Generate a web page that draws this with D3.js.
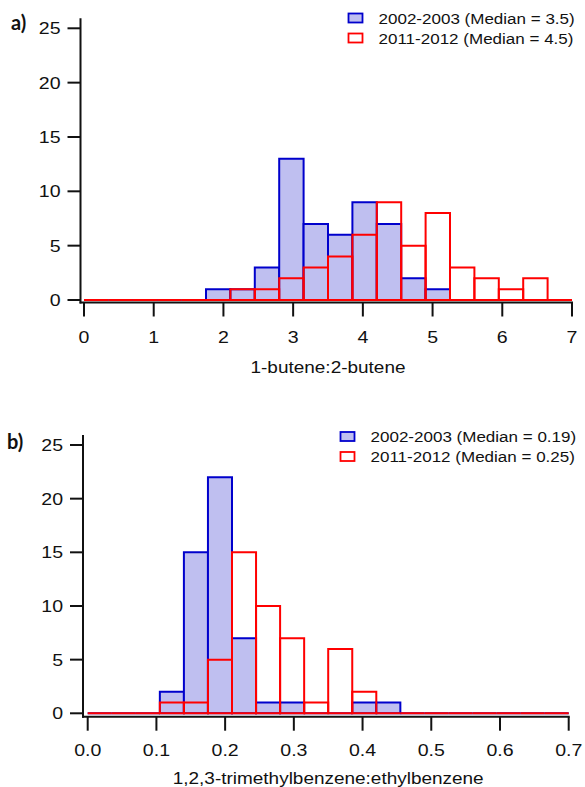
<!DOCTYPE html>
<html>
<head>
<meta charset="utf-8">
<script src="https://cdn.jsdelivr.net/npm/d3@7"></script>
<style>
    body { margin: 0; background: #fff; }
    text { font-family: "Liberation Sans", Arial, sans-serif; fill: #111; }
</style>
</head>
<body>
<svg id="chart" width="585" height="787"></svg>
<script>
// Panel a: 1-butene:2-butene, 20 bins of 0.35 from 0 to 7
const aBinWidth = 0.35;
const aBlue = [0, 0, 0, 0, 0, 1, 1, 3, 13, 7, 6, 9, 7, 2, 1, 0, 0, 0, 0, 0];
const aRed = [0, 0, 0, 0, 0, 0, 1, 1, 2, 3, 4, 6, 9, 5, 8, 3, 2, 1, 2, 0];
const aXTicks = [0, 1, 2, 3, 4, 5, 6, 7];
const aLegend = ['2002-2003 (Median = 3.5)', '2011-2012 (Median = 4.5)'];

// Panel b: 1,2,3-trimethylbenzene:ethylbenzene, 20 bins of 0.035 from 0 to 0.7
const bBinWidth = 0.035;
const bBlue = [0, 0, 0, 2, 15, 22, 7, 1, 1, 0, 0, 1, 1, 0, 0, 0, 0, 0, 0, 0];
const bRed = [0, 0, 0, 1, 1, 5, 15, 10, 7, 1, 6, 2, 0, 0, 0, 0, 0, 0, 0, 0];
const bXTicks = [0, 0.1, 0.2, 0.3, 0.4, 0.5, 0.6, 0.7];
const bLegend = ['2002-2003 (Median = 0.19)', '2011-2012 (Median = 0.25)'];

const yTicks = [0, 5, 10, 15, 20, 25];

const blue = '#0000cc', blueFill = '#bfbff0', red = '#ff0000';
const stretch = 1.15; // the source figure is stretched horizontally

const svg = d3.select('#chart');

function label(g, x, y, str, size, anchor, weight) {
    return g.append('text')
        .attr('transform', `translate(${x},${y}) scale(${stretch},1)`)
        .attr('text-anchor', anchor)
        .style('font-size', size + 'px')
        .style('font-weight', weight || 'normal')
        .text(str);
}

function drawPanel(p) {
    const g = svg.append('g');
    const x = d3.scaleLinear().domain(p.xDomain).range(p.xRange);
    const y = d3.scaleLinear().domain([0, 25]).range(p.yRange);

    const bins = (counts, w) => counts.map((c, i) => ({ x0: i * w, x1: (i + 1) * w, n: c }));
    // closed path per bin so that empty bins still show as a line on the baseline
    const binPath = d => `M${x(d.x0)},${y(0)}V${y(d.n)}H${x(d.x1)}V${y(0)}Z`;

    // blue histogram first, red outline on top
    g.append('g').selectAll('path')
        .data(bins(p.blue, p.binWidth))
        .join('path')
        .attr('d', binPath)
        .attr('fill', blueFill)
        .attr('stroke', blue)
        .attr('stroke-width', 2);

    g.append('g').selectAll('path')
        .data(bins(p.red, p.binWidth))
        .join('path')
        .attr('d', binPath)
        .attr('fill', 'none')
        .attr('stroke', red)
        .attr('stroke-width', 2);

    // axes
    const ax = p.axisX, ay = p.axisY;
    g.append('line')
        .attr('x1', ax).attr('x2', ax)
        .attr('y1', y(25) - 10).attr('y2', ay + 1)
        .attr('stroke', '#111').attr('stroke-width', 2);
    g.append('line')
        .attr('x1', ax - 1).attr('x2', x(p.xDomain[1]) + 1)
        .attr('y1', ay).attr('y2', ay)
        .attr('stroke', '#111').attr('stroke-width', 2);

    yTicks.forEach(t => {
        g.append('line')
            .attr('x1', ax - 13).attr('x2', ax)
            .attr('y1', y(t)).attr('y2', y(t))
            .attr('stroke', '#111').attr('stroke-width', 2);
        label(g, ax - 20, y(t) + 6, t, 17, 'end');
    });

    p.xTicks.forEach(t => {
        g.append('line')
            .attr('x1', x(t)).attr('x2', x(t))
            .attr('y1', ay).attr('y2', ay + 14)
            .attr('stroke', '#111').attr('stroke-width', 2);
        label(g, x(t), ay + p.tickLabelOffset + 6, p.tickFormat(t), 17, 'middle');
    });

    label(g, (p.xRange[0] + p.xRange[1]) / 2, ay + p.titleOffset + 6, p.title, 16.5, 'middle');

    // panel letter
    g.append('text')
        .attr('x', p.letterX).attr('y', p.letterY)
        .style('font-family', 'Lato, "Open Sans", sans-serif')
        .style('font-weight', 'bold')
        .style('font-size', '20px')
        .text(p.letter);

    // legend
    const colours = [[blueFill, blue], ['#fff', red]];
    p.legend.forEach((txt, i) => {
        const cy = p.legendY + i * 20;
        g.append('rect')
            .attr('x', p.legendX).attr('y', cy - 5)
            .attr('width', 14).attr('height', 9)
            .attr('fill', colours[i][0])
            .attr('stroke', colours[i][1])
            .attr('stroke-width', 1.8);
        label(g, p.legendX + 30, cy + 5, txt, 14.8, 'start');
    });
}

drawPanel({
    xDomain: [0, 7], xRange: [84, 572], yRange: [300, 28.3],
    axisX: 80.5, axisY: 302.5,
    binWidth: aBinWidth, blue: aBlue, red: aRed,
    xTicks: aXTicks, tickFormat: d3.format('d'),
    tickLabelOffset: 34, titleOffset: 64,
    title: '1-butene:2-butene',
    letter: 'a)', letterX: 11, letterY: 30,
    legend: aLegend, legendX: 348.5, legendY: 18.5
});

drawPanel({
    xDomain: [0, 0.7], xRange: [87.7, 568.7], yRange: [713.3, 445],
    axisX: 83, axisY: 716.7,
    binWidth: bBinWidth, blue: bBlue, red: bRed,
    xTicks: bXTicks, tickFormat: d3.format('.1f'),
    tickLabelOffset: 33.5, titleOffset: 61,
    title: '1,2,3-trimethylbenzene:ethylbenzene',
    letter: 'b)', letterX: 7, letterY: 449,
    legend: bLegend, legendX: 340.5, legendY: 437
});
</script>
</body>
</html>
